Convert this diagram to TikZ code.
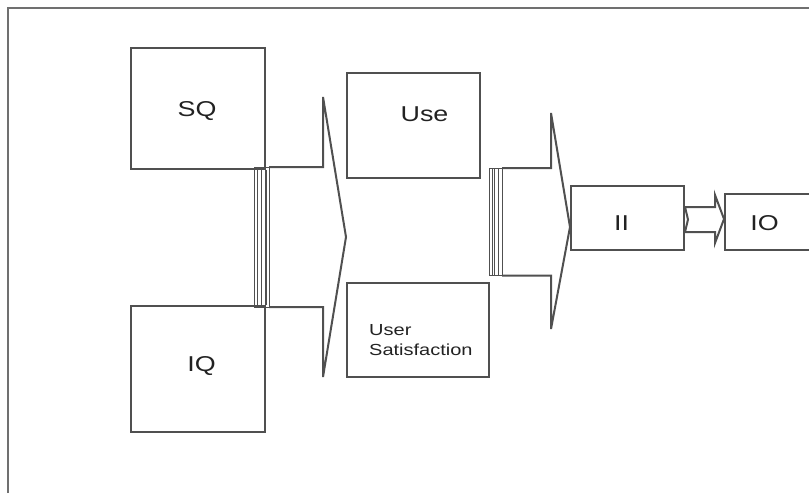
\documentclass[tikz,border=0pt]{standalone}
\usepackage{fontspec}
\setmainfont{Liberation Sans}
\newcommand\widetext[1]{\scalebox{1.25}[1]{#1}}
\definecolor{ink}{HTML}{505050}
\definecolor{txt}{HTML}{222222}
\definecolor{framec}{HTML}{707070}
\tikzset{
  box/.style={draw=ink, line width=2pt, inner sep=0pt, minimum width=#1},
  lbl/.style={anchor=base, inner sep=0pt, text=txt, font=\fontsize{21.5}{24}\selectfont},
  shape line/.style={draw=ink, line width=2pt, line join=miter},
  bar/.style={draw=ink, line width=1pt}
}
\begin{document}
\begin{tikzpicture}[x=1pt, y=-1pt]
\useasboundingbox (0,0) rectangle (809,493);

% outer frame (only top and left edges fall inside the page)
\draw[framec, line width=2pt] (8,493) -- (8,8) -- (809,8);

% boxes
\node[box=134pt, minimum height=121pt] (sq) at (198,108.5) {};
\node[box=134pt, minimum height=126pt] (iq) at (198,369) {};
\node[box=133pt, minimum height=105pt] (use) at (413.5,125.5) {};
\node[box=142pt, minimum height=94pt] (us) at (418,330) {};
\node[box=113pt, minimum height=64pt] (ii) at (627.5,218) {};
\node[box=90pt, minimum height=56pt] (io) at (770,222) {};

% labels
\node[lbl] (sqt) at (197,116) {\widetext{SQ}};
\node[lbl] (iqt) at (201.5,371.5) {\widetext{IQ}};
\node[lbl] (uset) at (424.5,121) {\widetext{Use}};
\node[lbl] (iit) at (621.5,230) {\widetext{II}};
\node[lbl] (iot) at (764.5,230) {\widetext{IO}};
\node[anchor=north west, inner sep=0pt, text=txt,
      font=\fontsize{16}{20}\selectfont] (ust) at (369,321)
  {\widetext{\begin{tabular}{@{}l@{}}User\\Satisfaction\end{tabular}}};

% first merge bar and its arrow
\draw[bar] (254,167) rectangle (269,307);
\draw[bar] (257.5,167) -- (257.5,307);
\draw[bar] (261,167) -- (261,307);
\draw[shape line] (sq.south east) -- (iq.north east);
\coordinate (a1tip) at (us.west |- 0,237);
\draw[shape line] (269,167) -- (323,167) -- (323,97) -- (a1tip)
  -- (323,377) -- (323,307) -- (269,307);

% second merge bar and its arrow
\draw[bar] (489.5,168) rectangle (502,275.5);
\draw[bar] (492,168) -- (492,275.5);
\draw[bar] (494.5,168) -- (494.5,275.5);
\draw[bar] (498.5,168) -- (498.5,275.5);
\coordinate (a2tip) at (ii.west |- 0,227);
\draw[shape line] (502,168) -- (551,168) -- (551,113) -- (a2tip)
  -- (551,329) -- (551,275.5) -- (502,275.5);

% block arrow from II to IO
\coordinate (a3tip) at (io.west |- 0,219);
\draw[shape line] (ii.east |- 0,207) -- (715,207) -- (715,195) -- (a3tip)
  -- (715,243) -- (715,232) -- (ii.east |- 0,232) -- (688,219.5) -- cycle;
\end{tikzpicture}
\end{document}
